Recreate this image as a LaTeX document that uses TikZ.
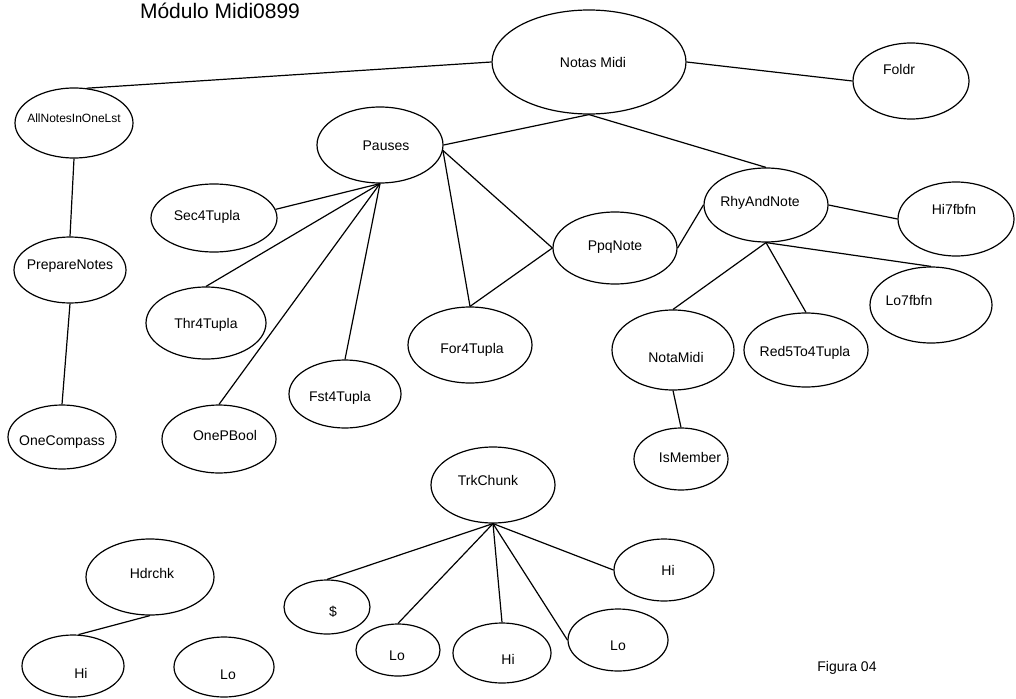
\documentclass[tikz,border=0pt]{standalone}
\usepackage{fontspec}
\setmainfont{Liberation Sans}
\usetikzlibrary{shapes.geometric}
\begin{document}
\begin{tikzpicture}[x=1pt,y=-1pt,
  oval/.style 2 args={ellipse, draw, line width=1.2pt, inner sep=0pt,
    minimum width=#1pt, minimum height=#2pt},
  lbl/.style={font=\fontsize{14}{16}\selectfont, inner sep=0pt},
  txt/.style n args={3}{label={[lbl,xshift=#1pt,yshift=-#2pt]center:#3}},
  link/.style={line width=1.2pt}]
\useasboundingbox (0,0) rectangle (1016,698);

% title and caption
\node[anchor=base, font=\fontsize{21}{24}\selectfont, inner sep=0pt] (title) at (220,19) {Módulo Midi0899};
\node[anchor=base, lbl] (caption) at (847,671) {Figura 04};

% main tree
\node[oval={194}{104}, txt={4}{0}{Notas Midi}] (notas) at (589,62) {};
\node[oval={116}{76}, txt={-12}{-12}{Foldr}] (foldr) at (911,81) {};
\node[oval={118}{70}, txt={0}{-5}{{\fontsize{12}{14}\selectfont AllNotesInOneLst}}] (allnotes) at (74,123) {};
\node[oval={112}{66}, txt={0}{-4}{PrepareNotes}] (prep) at (70,270) {};
\node[oval={108}{64}, txt={0}{5}{OneCompass}] (onecomp) at (62,437) {};

\node[oval={126}{76}, txt={6}{1}{Pauses}] (pauses) at (380,145) {};
\node[oval={126}{68}, txt={-7}{-1}{Sec4Tupla}] (sec) at (214,218) {};
\node[oval={120}{72}, txt={0}{2}{Thr4Tupla}] (thr) at (206,323) {};
\node[oval={114}{68}, txt={6}{-4}{OnePBool}] (onep) at (219,439) {};
\node[oval={112}{68}, txt={-5}{4}{Fst4Tupla}] (fst) at (345,394) {};
\node[oval={124}{76}, txt={2}{5}{For4Tupla}] (for) at (470,345) {};
\node[oval={124}{72}, txt={0}{-1}{PpqNote}] (ppq) at (615,248) {};

\node[oval={124}{74}, txt={-6}{-2}{RhyAndNote}] (rhy) at (766,205) {};
\node[oval={116}{74}, txt={-2}{-10}{Hi7fbfn}] (hi7) at (956,219) {};
\node[oval={122}{76}, txt={-22}{-5}{Lo7fbfn}] (lo7) at (931,305) {};
\node[oval={122}{80}, txt={3}{7}{NotaMidi}] (notamidi) at (673,350) {};
\node[oval={124}{74}, txt={-1}{3}{Red5To4Tupla}] (red) at (806,350) {};
\node[oval={94}{62}, txt={9}{-2}{IsMember}] (ismember) at (681,459) {};

% TrkChunk tree
\node[oval={124}{76}, txt={-5}{-5}{TrkChunk}] (trk) at (493,485) {};
\node[oval={86}{54}, txt={6}{5}{\$}] (dollar) at (327,607) {};
\node[oval={84}{52}, txt={-1}{6}{Lo}] (lo1) at (398,650) {};
\node[oval={98}{60}, txt={6}{6}{Hi}] (hi1) at (502,653) {};
\node[oval={100}{62}, txt={0}{6}{Lo}] (lo2) at (618,640) {};
\node[oval={100}{62}, txt={4}{0}{Hi}] (hi2) at (664,570) {};

% Hdrchk tree
\node[oval={128}{76}, txt={2}{-4}{Hdrchk}] (hdr) at (150,577) {};
\node[oval={102}{62}, txt={8}{7}{Hi}] (hi0) at (73,666) {};
\node[oval={100}{60}, txt={4}{8}{Lo}] (lo0) at (224,667) {};

% connectors
\draw[link] (notas.west) -- (allnotes.70);
\draw[link] (notas.east) -- (foldr.west);
\draw[link] (notas.south) -- (pauses.east);
\draw[link] (notas.south) -- (rhy.north);
\draw[link] (allnotes.south) -- (prep.north);
\draw[link] (prep.south) -- (onecomp.north);

\draw[link] (pauses.south) -- (sec.8);
\draw[link] (pauses.south) -- (thr.north);
\draw[link] (pauses.south) -- (onep.north);
\draw[link] (pauses.south) -- (fst.north);
\draw[link] (pauses.-5) -- (for.north);
\draw[link] (pauses.-5) -- (ppq.west);
\draw[link] (ppq.west) -- (for.north);
\draw[link] (ppq.east) -- (rhy.west);

\draw[link] (rhy.east) -- (hi7.west);
\draw[link] (rhy.south) -- (notamidi.north);
\draw[link] (rhy.south) -- (red.north);
\draw[link] (rhy.south) -- (lo7.north);
\draw[link] (notamidi.south) -- (ismember.north);

\draw[link] (trk.south) -- (dollar.north);
\draw[link] (trk.south) -- (lo1.north);
\draw[link] (trk.south) -- (hi1.north);
\draw[link] (trk.south) -- (lo2.west);
\draw[link] (trk.south) -- (hi2.west);

\draw[link] (hdr.south) -- (hi0.80);
\end{tikzpicture}
\end{document}
